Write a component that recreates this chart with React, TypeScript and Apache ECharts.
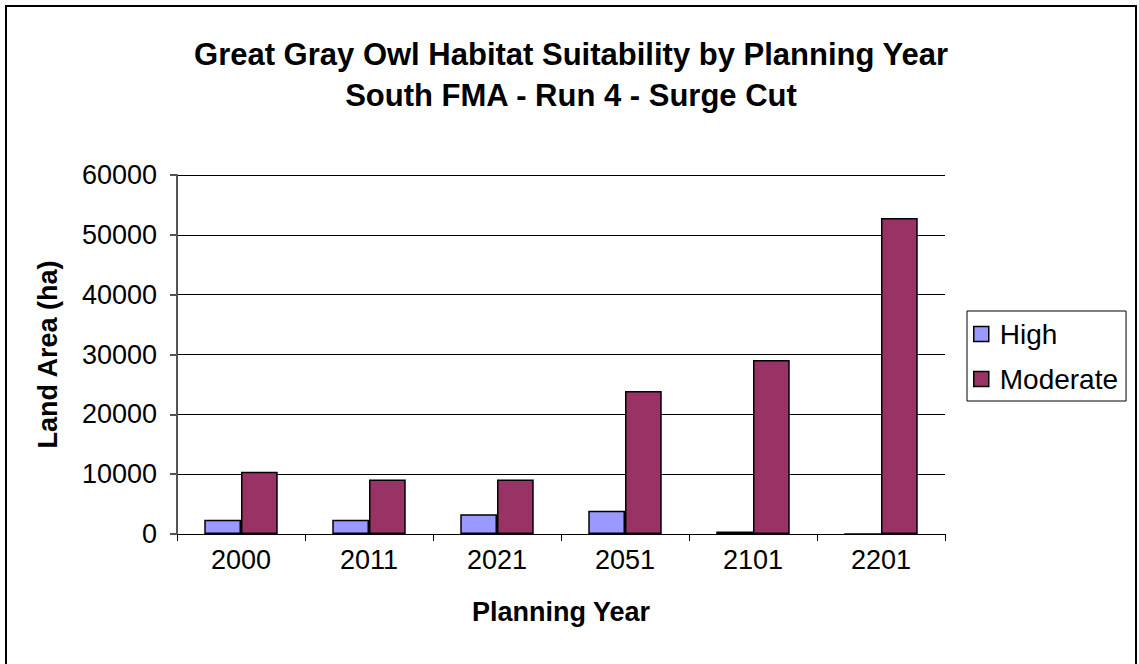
import React, { useEffect, useRef } from "react";
import * as echarts from "echarts";

const categories = ["2000", "2011", "2021", "2051", "2101", "2201"];
const highValues = [2400, 2400, 3300, 3900, 400, 0];
const moderateValues = [10400, 9100, 9100, 23900, 29100, 52800];
const seriesNames = ["High", "Moderate"];
const titleText = "Great Gray Owl Habitat Suitability by Planning Year\nSouth FMA - Run 4 - Surge Cut";

const FONT = "'Liberation Sans', Arial, sans-serif";

export default function App() {
  const ref = useRef<HTMLDivElement>(null);
  useEffect(() => {
    if (!ref.current) return;
    const chart = echarts.init(ref.current, null, { renderer: "svg" });
    chart.setOption({
      animation: false,
      backgroundColor: "#ffffff",
      textStyle: { fontFamily: FONT },
      title: {
        text: titleText,
        left: 571,
        textAlign: "center",
        top: 34,
        padding: 0,
        textStyle: {
          fontFamily: FONT,
          fontSize: 31,
          fontWeight: "bold",
          color: "#000",
          lineHeight: 41,
        },
      },
      graphic: [
        {
          type: "rect",
          shape: { x: 6, y: 6, width: 1130, height: 670 },
          style: { fill: "none", stroke: "#000", lineWidth: 2 },
          silent: true,
        },
      ],
      legend: {
        orient: "vertical",
        left: 967,
        top: 311,
        width: 161,
        height: 87,
        padding: [9, 8, 8, 6],
        itemGap: 17,
        itemWidth: 15,
        itemHeight: 15,
        borderColor: "#000",
        borderWidth: 1,
        icon: "rect",
        itemStyle: { borderColor: "#000", borderWidth: 1.5 },
        textStyle: { fontFamily: FONT, fontSize: 28, color: "#000", padding: [0, 0, 0, 6] },
        data: seriesNames,
      },
      grid: { left: 177, right: 194, top: 175, bottom: 130, containLabel: false },
      xAxis: {
        type: "category",
        data: categories,
        name: "Planning Year",
        nameLocation: "middle",
        nameGap: 64,
        nameTextStyle: { fontFamily: FONT, fontSize: 27, fontWeight: "bold", color: "#000" },
        axisLine: { lineStyle: { color: "#000", width: 1 } },
        axisTick: { show: true, length: 7, lineStyle: { color: "#000" } },
        axisLabel: { fontFamily: FONT, fontSize: 27, color: "#000", margin: 12 },
      },
      yAxis: {
        type: "value",
        min: 0,
        max: 60000,
        interval: 10000,
        name: "Land Area (ha)",
        nameLocation: "middle",
        nameGap: 116,
        nameTextStyle: { fontFamily: FONT, fontSize: 27, fontWeight: "bold", color: "#000" },
        axisLine: { show: true, lineStyle: { color: "#555", width: 2 } },
        axisTick: { show: true, length: 7, lineStyle: { color: "#555", width: 2 } },
        axisLabel: {
          fontFamily: FONT,
          fontSize: 27,
          color: "#000",
          margin: 20,
          formatter: (v: number) => String(v),
        },
        splitLine: { show: true, lineStyle: { color: "#000", width: 1 } },
      },
      series: [
        {
          name: seriesNames[0],
          type: "bar",
          data: highValues,
          barGap: "0%",
          barCategoryGap: "42.6%",
          itemStyle: { color: "#9999FF", borderColor: "#000", borderWidth: 1.5 },
        },
        {
          name: seriesNames[1],
          type: "bar",
          data: moderateValues,
          barGap: "0%",
          barCategoryGap: "42.6%",
          itemStyle: { color: "#993366", borderColor: "#000", borderWidth: 1.5 },
        },
      ],
    });
    return () => chart.dispose();
  }, []);
  return (
    <div
      ref={ref}
      style={{ position: "fixed", left: 0, top: 0, width: 1139, height: 664 }}
    />
  );
}
